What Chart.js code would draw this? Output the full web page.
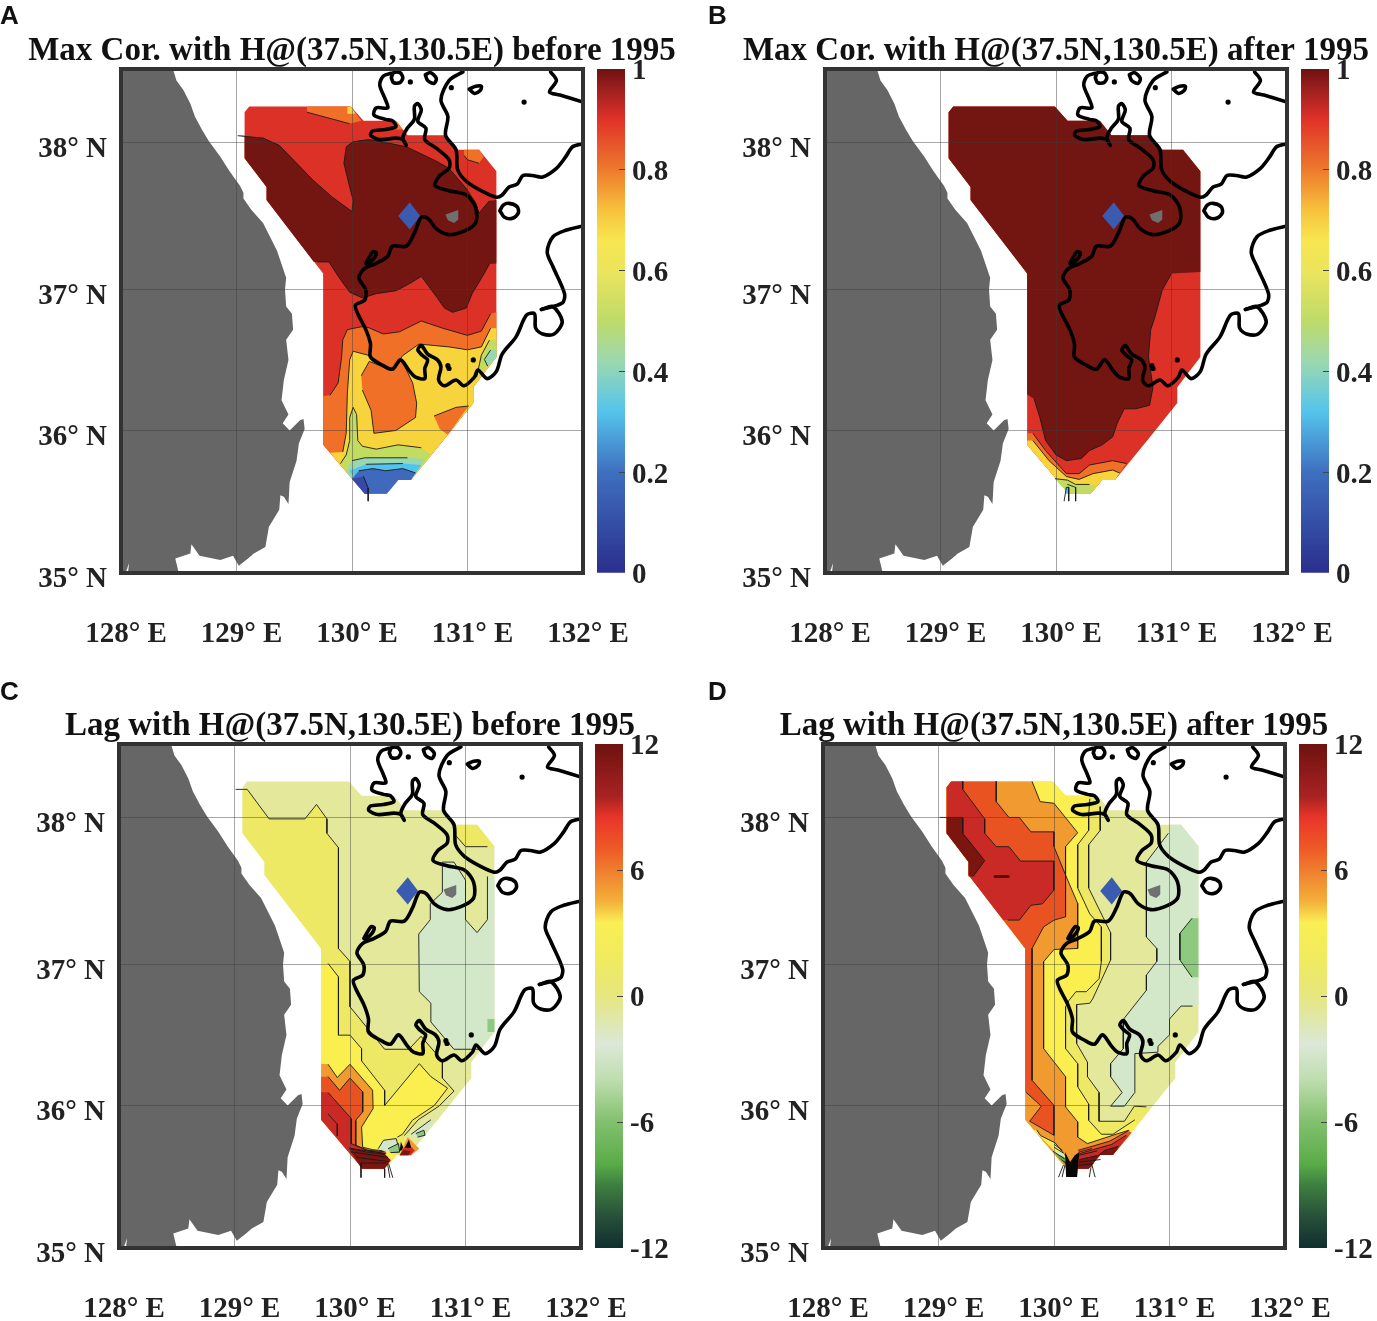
<!DOCTYPE html>
<html>
<head>
<meta charset="utf-8">
<title>Max Cor. and Lag with H@(37.5N,130.5E)</title>
<script src="https://cdn.jsdelivr.net/npm/chart.js@4/dist/chart.umd.js"></script>
<style>
  html, body { margin: 0; background: #fff; }
  #stage { position: relative; width: 1377px; height: 1321px; overflow: hidden; background: #fff; }
  canvas { position: absolute; }
  .tag { position: absolute; font: bold 26px/26px "Liberation Sans", sans-serif; color: #111; }
</style>
</head>
<body>
<div id="stage"></div>
<script>
// axis values
const lonTicks = [128, 129, 130, 131, 132];
const latTicks = [35, 35.99, 36.97, 37.99];   // grid lines as they sit in the figure
const corTicks = [0, 0.2, 0.4, 0.6, 0.8, 1];
const lagTicks = [-12, -6, 0, 6, 12];

// colour bars: value, colour
const corStops = [[1,'#6E1210'],[0.95,'#A82222'],[0.9,'#E03228'],[0.8,'#EE7A2C'],[0.72,'#F6C23C'],[0.66,'#F8E650'],[0.6,'#ECE45C'],[0.5,'#BEDB6A'],[0.42,'#9CD8B0'],[0.32,'#54C4EC'],[0.2,'#3F6FC0'],[0,'#2A2F8C']];
const lagStops = [[12,'#6E1210'],[9.5,'#A82222'],[8.5,'#E8352A'],[7,'#EE5A25'],[6,'#EF7D2F'],[4.5,'#F4B03A'],[3.5,'#F9EE55'],[2,'#F2EB5C'],[0,'#E6E67F'],[-1.5,'#DDE8B8'],[-2.3,'#DCE8D8'],[-4,'#BEDDAE'],[-6,'#82C06E'],[-8,'#5AAB48'],[-9,'#3E7F40'],[-10.5,'#27503A'],[-12,'#0F2F2E']];

// contour bands, fill colours
const RED = '#DC3127', DARK = '#731510', ORANGE = '#F07028', GOLD = '#F8D43C', LIME = '#C2DC62', TEAL = '#98D8B0', SKY = '#50C4EE', BLUE = '#3F69BC', DEEP = '#3848A8';
const PALE = '#E3E89A', YEL = '#EDE964', BRIGHT = '#FBEF50', MINT = '#D3E8C8', GREEN = '#8CCA80', AMBER = '#F19A30', EMBER = '#E95322', CRIM = '#C92A25', MAROON = '#7A1510', PINE = '#27503A', LEAF = '#5AAB48', INK = '#060606';

// third value 0 = point on the edge of the data region, no contour line drawn to it
const rimNorth = [[129.11,38.24,0],[129.99,38.24,0],[130.10,38.14,0],[130.38,38.14,0],[130.48,38.04,0],[130.80,38.04,0],[130.92,37.94,0],[131.10,37.94,0],[131.25,37.79,0]];
const rimEast = [[131.25,36.50,0],[131.05,36.29,0],[131.05,36.18,0],[130.83,35.96,0]];
const rimSouth = [[130.51,35.645,0],[130.40,35.645,0],[130.30,35.55,0],[130.11,35.55,0],[129.75,35.89,0]];
const rimWest = [[129.75,37.08,0],[129.26,37.59,0],[129.26,37.68,0],[129.07,37.88,0],[129.07,38.2,0]];
const rimTip = [[130.51,35.645,0],[130.40,35.645,0],[130.30,35.55,0],[130.11,35.55,0]];
const rimBack = [[130.11,35.55,0],[130.30,35.55,0],[130.40,35.645,0],[130.51,35.645,0],[130.83,35.96,0],[131.05,36.18,0],[131.05,36.29,0],[131.25,36.50,0]];
const domain = [...rimNorth, ...rimEast, ...rimSouth, ...rimWest];

// land and coast
const land = [[128,38.5,0],[128.45,38.5,0],[128.48,38.42,0],[128.54,38.355,0],[128.60,38.26,0],[128.64,38.17,0],[128.70,38.08,0],[128.76,38.0,0],[128.86,37.89,0],[128.94,37.79,0],[129.03,37.69,0],[129.06,37.64,0],[129.06,37.60,0],[129.13,37.52,0],[129.23,37.43,0],[129.35,37.24,0],[129.43,37.05,0],[129.42,36.97,0],[129.43,36.85,0],[129.48,36.80,0],[129.49,36.69,0],[129.43,36.62,0],[129.45,36.48,0],[129.41,36.34,0],[129.39,36.20,0],[129.45,36.10,0],[129.40,36.04,0],[129.46,35.99,0],[129.55,36.06,0],[129.58,36.07,0],[129.59,36.0,0],[129.54,35.90,0],[129.52,35.78,0],[129.46,35.63,0],[129.45,35.48,0],[129.41,35.53,0],[129.38,35.54,0],[129.37,35.44,0],[129.28,35.32,0],[129.25,35.18,0],[129.15,35.135,0],[129.10,35.10,0],[129.02,35.05,0],[128.97,35.12,0],[128.86,35.09,0],[128.68,35.12,0],[128.61,35.20,0],[128.60,35.135,0],[128.47,35.10,0],[128.50,35.0,0],[128,35,0]];
const landNotch = [[128.04,35.0,0],[128.07,35.07,0],[128.06,35.0,0]];
const coastNE = [[130.96,38.48],[130.84,38.42],[130.77,38.285],[130.83,38.17],[130.81,38.04],[130.90,37.94],[130.915,37.80],[130.99,37.72],[131.13,37.65],[131.25,37.61],[131.30,37.625],[131.36,37.68],[131.43,37.70],[131.48,37.76],[131.56,37.76],[131.65,37.75],[131.77,37.81],[131.85,37.89],[131.91,37.96],[132,37.98]];
const coastMain = [[130.34,38.47],[130.27,38.45],[130.24,38.39],[130.29,38.285],[130.31,38.23],[130.21,38.23],[130.19,38.18],[130.29,38.15],[130.35,38.14],[130.38,38.10],[130.29,38.08],[130.18,38.07],[130.16,38.04],[130.24,38.01],[130.38,38.02],[130.44,38.01],[130.47,37.97],[130.44,38.02],[130.48,38.09],[130.54,38.15],[130.54,38.24],[130.57,38.26],[130.60,38.215],[130.57,38.135],[130.64,38.09],[130.63,38.01],[130.73,37.95],[130.84,37.87],[130.84,37.81],[130.76,37.76],[130.72,37.69],[130.84,37.655],[130.99,37.625],[131.07,37.54],[131.07,37.43],[130.96,37.37],[130.84,37.35],[130.73,37.39],[130.66,37.46],[130.60,37.47],[130.54,37.36],[130.47,37.27],[130.35,37.27],[130.31,37.20],[130.21,37.15],[130.11,37.115],[130.06,37.05],[130.12,36.965],[130.11,36.895],[130.03,36.86],[130.05,36.80],[130.12,36.69],[130.16,36.59],[130.16,36.50],[130.27,36.44],[130.35,36.415],[130.42,36.48],[130.50,36.40],[130.55,36.36],[130.63,36.35],[130.63,36.42],[130.655,36.48],[130.61,36.51],[130.57,36.55],[130.60,36.58],[130.655,36.52],[130.74,36.48],[130.77,36.43],[130.75,36.34],[130.80,36.30],[130.90,36.34],[130.97,36.30],[131.06,36.36],[131.09,36.41],[131.17,36.35],[131.25,36.40],[131.30,36.52],[131.42,36.64],[131.51,36.79],[131.58,36.80],[131.59,36.70],[131.65,36.66],[131.75,36.66],[131.82,36.745],[131.74,36.85],[131.64,36.83]];
const coastE = [[131.64,36.83],[131.82,36.875],[131.84,36.94],[131.74,37.127],[131.69,37.23],[131.74,37.335],[131.85,37.38],[132,37.41]];
const coastTop = [[131.72,38.48],[131.77,38.42],[131.71,38.34],[131.80,38.32],[132,38.27]];
const loopA = [[130.34,38.44],[130.36,38.475],[130.415,38.475],[130.44,38.44],[130.415,38.405],[130.36,38.405],[130.34,38.44]];
const loopB = [[130.635,38.46],[130.68,38.475],[130.73,38.435],[130.71,38.40],[130.655,38.42],[130.635,38.46]];
const loopC = [[131.015,38.36],[131.07,38.38],[131.12,38.38],[131.11,38.35],[131.06,38.33],[131.015,38.36]];
const loopD = [[131.28,37.516],[131.31,37.555],[131.36,37.567],[131.43,37.544],[131.44,37.50],[131.39,37.463],[131.32,37.47],[131.28,37.516]];
const loopE = [[130.12,37.15],[130.18,37.23],[130.21,37.225],[130.19,37.185],[130.135,37.145],[130.12,37.15]];
const islets = [[130.505,38.41],[130.86,38.37],[131.49,38.27],[131.05,36.48],[130.84,36.42],[130.83,36.44]];
const basePoint = [[130.40,37.48,0],[130.50,37.575,0],[130.59,37.48,0],[130.50,37.385,0]];
const isletPatch = [[130.81,37.49,0],[130.92,37.52,0],[130.92,37.455,0],[130.885,37.43,0],[130.83,37.45,0]];

// A: max correlation before 1995
const aOrangeTop = [[129.61,38.24,0],[129.61,38.20],[129.98,38.12],[130.08,38.14,0],[129.99,38.24,0]];
const aGoldTop = [[129.96,38.24,0],[129.99,38.24,0],[130.03,38.19,0],[129.96,38.19,0]];
const aOrangeSmall = [[130.34,38.14,0],[130.38,38.14,0],[130.44,38.08,0],[130.38,38.08,0]];
const aOrangeNE = [[130.97,37.94,0],[131.10,37.94,0],[131.14,37.89,0],[131.10,37.845],[131.0,37.87],[130.97,37.90]];
const aDark = [[129.01,38.037],[129.23,38.02],[129.37,37.97],[129.54,37.83],[129.66,37.73],[129.83,37.61],[130.0,37.51],[130.01,37.59],[129.98,37.68],[129.93,37.845],[129.95,37.96],[130.01,37.995],[130.15,38.01],[130.29,37.99],[130.47,37.96],[130.73,37.86],[130.84,37.81],[130.99,37.67],[131.07,37.57],[131.10,37.50],[131.19,37.585],[131.25,37.59,0],[131.25,37.15,0],[131.19,37.145],[131.13,37.06],[131.04,36.94],[130.99,36.84],[130.87,36.81],[130.80,36.84],[130.73,36.92],[130.60,37.06],[130.50,37.01],[130.38,36.96],[130.21,36.94],[130.09,36.91],[129.98,36.95],[129.89,37.05],[129.80,37.16],[129.70,37.16],[129.67,37.16,0],[129.26,37.59,0],[129.26,37.68,0],[129.07,37.88,0],[129.07,38.037,0]];
const aOrangeLow = [[129.75,36.23,0],[129.81,36.235],[129.88,36.32],[129.91,36.50],[129.92,36.62],[129.96,36.69],[130.08,36.71],[130.14,36.705],[130.27,36.66],[130.41,36.675],[130.60,36.75],[130.785,36.70],[131.0,36.65],[131.12,36.68],[131.20,36.80],[131.25,36.81,0],...rimEast,...rimSouth];
const aGold = [[131.25,36.70,0],[131.20,36.70],[131.12,36.57],[131.0,36.55],[130.84,36.57],[130.58,36.59],[130.44,36.51],[130.35,36.42],[130.27,36.44],[130.15,36.51],[130.01,36.54],[129.98,36.48],[129.96,36.25],[129.95,35.97],[129.92,35.84],[129.81,35.835,0],...rimBack];
const aOrangeBlob = [[130.08,36.37],[130.15,36.47],[130.27,36.43],[130.35,36.41],[130.43,36.48],[130.525,36.32],[130.56,36.18],[130.55,36.08],[130.38,35.99],[130.19,35.97],[130.165,36.13],[130.09,36.27]];
const aOrangeCorner = [[130.71,36.09],[130.90,36.15],[131.01,36.16],[130.83,35.96,0],[130.76,36.0]];
const aLimeEast = [[131.25,36.62,0],[131.19,36.617],[131.12,36.513],[131.08,36.362],[131.16,36.42,0],[131.25,36.50,0]];
const aTealEast = [[131.25,36.548,0],[131.20,36.548],[131.146,36.483],[131.175,36.436],[131.25,36.50,0]];
const aLime = [[129.90,35.76],[129.95,35.82],[129.98,35.92],[129.98,36.08],[130.01,36.15],[130.04,36.10],[130.05,35.92],[130.09,35.88],[130.21,35.86],[130.40,35.89],[130.60,35.87],[130.69,35.82,0],...rimTip];
const aTeal = [[129.95,35.70,0],[130.0,35.78],[130.11,35.80],[130.48,35.80],[130.63,35.79,0],...rimTip];
const aSky = [[129.98,35.71,0],[130.12,35.755],[130.44,35.76],[130.60,35.75,0],...rimTip];
const aBlue = [[130.0,35.655,0],[130.06,35.71],[130.18,35.725],[130.29,35.71],[130.44,35.725],[130.55,35.695],...rimTip];
const aDeep = [[130.0,35.655,0],[130.10,35.67,0],[130.14,35.59,0],[130.14,35.55,0],[130.11,35.55,0]];
const aStubs = [[[130.10,35.67],[130.14,35.59],[130.14,35.50]]];

// B: max correlation after 1995
const bDark = [[131.25,37.09,0],[131.0,37.08],[130.92,36.965],[130.85,36.76],[130.82,36.69],[130.80,36.50],[130.84,36.29],[130.81,36.165],[130.69,36.14],[130.59,36.14],[130.53,36.04],[130.49,35.945],[130.40,35.89],[130.29,35.85],[130.22,35.795],[130.09,35.78],[130.0,35.82],[129.91,35.92],[129.86,36.08],[129.81,36.21],[129.75,36.24,0],...rimWest,...rimNorth];
const bOrange = [[129.75,35.97,0],[129.80,35.97],[129.91,35.85],[130.09,35.69],[130.20,35.69],[130.29,35.75],[130.49,35.78],[130.61,35.76],[130.51,35.645,0],[130.40,35.645,0],[130.30,35.55,0],[130.11,35.55,0],[129.75,35.89,0]];
const bGold = [[129.75,35.92,0],[129.80,35.92],[129.94,35.78],[130.09,35.67],[130.20,35.65],[130.32,35.69],[130.49,35.715],[130.55,35.695],[130.51,35.645,0],[130.40,35.645,0],[130.30,35.55,0],[130.11,35.55,0],[129.75,35.89,0]];
const bLime = [[129.99,35.655],[130.10,35.645],[130.17,35.615],[130.29,35.615],[130.35,35.61,0],[130.30,35.55,0],[130.11,35.55,0]];
const bSky = [[130.08,35.55,0],[130.08,35.595,0],[130.11,35.60,0],[130.115,35.55,0]];
const bStubs = [[[130.07,35.50],[130.09,35.595],[130.11,35.595],[130.11,35.50]],[[130.10,35.615],[130.17,35.595],[130.17,35.50]]];

// C: lag before 1995
const cYellow = [[129.01,38.185],[129.11,38.185],[129.30,37.98],[129.61,37.98],[129.71,38.08],[129.80,37.98],[129.80,37.88],[129.90,37.78],[129.90,37.08],[130.0,36.99],[130.0,36.675],[130.30,36.38],[130.51,36.38],[130.615,36.47],[130.80,36.30],[130.80,36.18],[130.90,36.09],[130.77,35.985],[130.59,35.89],[130.47,35.78],[130.51,35.645,0],[130.40,35.645,0],[130.30,35.55,0],[130.11,35.55,0],[129.75,35.89,0],...rimWest,[129.07,38.185,0]];
const cYellowNE = [[130.92,37.94,0],[130.92,37.86],[131.0,37.787],[131.19,37.787],[131.25,37.787,0],[131.10,37.94,0]];
const cBright = [[129.75,36.976,0],[129.81,36.976],[129.90,36.883],[129.90,36.478],[130.0,36.478],[130.10,36.385],[130.10,36.30],[130.30,36.095],[130.30,35.99],[130.60,36.28],[130.70,36.19],[130.845,36.11],[130.73,35.99],[130.54,35.887],[130.455,35.79],[130.41,35.77],[130.30,35.68,0],[130.11,35.55,0],[129.75,35.89,0]];
const cMint = [[131.25,36.50,0],[131.12,36.38],[130.90,36.38],[130.70,36.57],[130.70,36.70],[130.60,36.78],[130.595,37.18],[130.695,37.28],[130.695,37.39],[130.80,37.47],[130.80,37.68],[130.90,37.68],[131.0,37.555],[131.0,37.28],[131.10,37.19],[131.19,37.28],[131.19,37.58],[131.25,37.58,0]];
const cGreenE = [[131.19,36.59],[131.25,36.59,0],[131.25,36.50,0],[131.19,36.50]];
const cAmber = [[129.75,36.28,0],[129.81,36.276],[129.89,36.184],[130.0,36.276],[130.196,36.095],[130.20,35.968],[130.10,35.84],[130.11,35.70],[130.196,35.683],[130.31,35.674],[130.37,35.62,0],[130.30,35.55,0],[130.11,35.55,0],[129.75,35.89,0]];
const cEmber = [[129.75,36.19,0],[129.81,36.19],[129.91,36.095],[130.0,36.18],[130.11,36.084],[130.11,35.945],[130.05,35.887],[130.05,35.713],[130.15,35.68],[130.31,35.667],[130.30,35.55,0],[130.11,35.55,0],[129.75,35.89,0]];
const cCrim = [[129.75,36.084,0],[129.81,36.08],[130.01,35.90],[130.01,35.725],[130.14,35.68],[130.31,35.655],[130.30,35.55,0],[130.11,35.55,0],[129.75,35.89,0]];
const cMaroon = [[129.99,35.695],[130.14,35.667],[130.31,35.65],[130.36,35.62,0],[130.30,35.55,0],[130.10,35.55,0]];
const cBlobMint = [[130.245,35.69],[130.29,35.748],[130.40,35.76],[130.43,35.667],[130.33,35.662]];
const cBlobGreen = [[130.33,35.69],[130.42,35.725],[130.43,35.667],[130.35,35.662]];
const cBlobInk = [[130.44,35.737,0],[130.47,35.683,0],[130.43,35.674,0]];
const cBlobGold = [[130.30,35.655,0],[130.33,35.674,0],[130.40,35.632,0],[130.36,35.604,0]];
const cWedgeAmber = [[130.50,35.771,0],[130.60,35.69,0],[130.53,35.644,0],[130.43,35.644,0],[130.46,35.70,0]];
const cWedgeCrim = [[130.50,35.725,0],[130.56,35.678,0],[130.525,35.644,0],[130.43,35.644,0],[130.46,35.69,0]];
const cWedgeMaroon = [[130.43,35.644,0],[130.46,35.678,0],[130.525,35.674,0],[130.505,35.644,0]];
const cWedgeInk = [[130.475,35.697,0],[130.51,35.753,0],[130.53,35.697,0]];
const cSpurMint = [[130.53,35.79],[130.70,35.89],[130.73,35.875,0],[130.60,35.75,0]];
const cSpurGreen = [[130.57,35.795],[130.64,35.818],[130.65,35.783],[130.585,35.77]];
const cStubs = [[[130.01,35.69],[130.31,35.655]],[[130.01,35.667],[130.325,35.63]],[[130.05,35.63],[130.335,35.60]],[[130.10,35.59],[130.31,35.59]],[[130.095,35.59],[130.095,35.49]],[[130.30,35.55],[130.30,35.49]],[[130.325,35.585],[130.345,35.49]],[[130.335,35.585],[130.37,35.49]],[[129.81,35.93],[129.89,35.86],[129.89,35.78]]];

// D: lag after 1995
const dYellow = [[130.40,38.065],[130.40,37.90],[130.30,37.80],[130.30,37.50],[130.49,37.19],[130.49,37.0],[130.335,36.73],[130.31,36.70],[130.196,36.69],[130.196,36.42],[130.29,36.29],[130.29,36.19],[130.39,36.08],[130.39,35.88],[130.61,35.88],[130.695,35.985],[130.80,35.98],[130.83,35.96,0],...rimSouth,...rimWest,[129.11,38.24,0],[129.99,38.24,0],[130.10,38.14,0],[130.38,38.14,0]];
const dBright = [[130.31,38.12],[130.30,38.0],[130.30,37.90],[130.205,37.80],[130.205,37.50],[130.31,37.32],[130.41,37.23],[130.41,36.99],[130.39,36.87],[130.28,36.78],[130.19,36.78],[130.13,36.72],[130.10,36.675],[130.10,36.385],[130.205,36.28],[130.205,36.12],[130.30,36.0],[130.30,35.887],[130.41,35.79],[130.51,35.79],[130.70,35.89],[130.72,35.85,0],...rimSouth,...rimWest,[129.11,38.24,0],[129.99,38.24,0],[130.10,38.14,0],[130.31,38.14,0]];
const dMint = [[130.99,37.88],[130.80,37.68],[130.80,37.16],[130.89,37.08],[130.89,36.99],[130.80,36.895],[130.80,36.79],[130.60,36.587],[130.60,36.385],[130.49,36.28],[130.49,36.19],[130.59,36.08],[130.49,35.985],[130.61,35.985],[130.70,36.08],[130.70,36.35],[130.90,36.36],[130.90,36.40],[131.0,36.48],[131.0,36.59],[131.10,36.68],[131.20,36.68],[131.25,36.68,0],[131.25,37.79,0],[131.10,37.94,0],[131.0,37.94,0]];
const dGreen = [[131.25,37.29,0],[131.195,37.29],[131.09,37.185],[131.09,37.0],[131.195,36.88],[131.25,36.88,0]];
const dAmber = [[129.81,38.24],[129.88,38.10],[130.0,38.088],[130.205,37.884],[130.10,37.787],[130.10,37.59],[130.205,37.393],[130.205,37.08],[130.0,37.073],[129.91,36.988],[129.91,36.385],[130.10,36.19],[130.10,35.98],[130.205,35.876],[130.205,35.77],[130.29,35.725],[130.51,35.783],[130.65,35.818],[130.67,35.80,0],...rimSouth,...rimWest,[129.11,38.24,0]];
const dEmber = [[129.50,38.24],[129.50,38.10],[129.61,37.99],[129.70,37.99],[129.80,37.89],[130.0,37.89],[130.0,37.787],[130.10,37.59],[130.10,37.30],[130.0,37.277],[129.91,37.23],[129.81,37.08],[129.81,36.165],[130.0,35.99],[130.0,35.783],[129.79,35.88],[129.89,35.985],[129.76,36.08],[129.75,36.08,0],...rimWest,[129.11,38.24,0]];
const dCrim = [[129.21,38.24],[129.21,38.185],[129.40,37.98],[129.40,37.88],[129.50,37.787],[129.61,37.787],[129.71,37.687],[130.0,37.687],[130.0,37.486],[129.90,37.39],[129.80,37.38],[129.70,37.277],[129.60,37.277],[129.56,37.277,0],[129.26,37.59,0],[129.26,37.68,0],[129.07,37.88,0],[129.07,38.2,0],[129.11,38.24,0]];
const dMaroon = [[129.01,37.99],[129.21,37.99],[129.21,37.88],[129.40,37.69],[129.30,37.58],[129.26,37.58,0],[129.26,37.68,0],[129.07,37.88,0],[129.07,37.99,0]];
const dGold = [[129.825,35.82,0],[129.85,35.82],[129.885,35.78],[130.01,35.73],[130.10,35.64],[130.08,35.597,0],[129.995,35.68,0]];
const dLeafPale = [[129.995,35.683,0],[130.09,35.657,0],[130.09,35.63,0],[130.01,35.66,0]];
const dLeaf = [[130.01,35.66,0],[130.09,35.63,0],[130.10,35.60,0],[130.04,35.627,0]];
const dPine = [[130.04,35.627,0],[130.10,35.60,0],[130.11,35.574,0],[130.08,35.597,0]];
const dInk = [[130.095,35.667,0],[130.14,35.597,0],[130.18,35.644,0],[130.22,35.667,0],[130.20,35.493,0],[130.105,35.493,0]];
const dEmberS = [[130.21,35.679],[130.33,35.706],[130.485,35.743],[130.64,35.813],[130.673,35.80,0],[130.51,35.645,0],[130.40,35.645,0],[130.30,35.55,0],[130.20,35.55,0]];
const dCrimS = [[130.22,35.655],[130.34,35.683],[130.50,35.72],[130.625,35.783],[130.64,35.776,0],[130.51,35.645,0],[130.40,35.645,0],[130.30,35.55,0],[130.20,35.55,0]];
const dMaroonS = [[130.22,35.614],[130.385,35.644],[130.44,35.678],[130.557,35.706],[130.56,35.70,0],[130.51,35.645,0],[130.40,35.645,0],[130.30,35.55,0],[130.20,35.55,0]];
const dDash = [[129.49,37.58],[129.605,37.58]];
const dStubs = [[[130.22,35.667],[130.326,35.69]],[[130.22,35.644],[130.37,35.674]],[[130.22,35.597],[130.40,35.614]],[[130.22,35.574],[130.34,35.586]],[[130.04,35.493],[130.08,35.574]],[[130.07,35.493],[130.095,35.574]],[[130.306,35.493],[130.326,35.586]],[[130.355,35.493],[130.326,35.586]],[[130.0,35.72],[130.07,35.68]],[[130.0,35.70],[130.08,35.66]],[[129.995,35.67],[130.09,35.62]]];

const panels = [
  { tag: 'A', left: 0, top: 0, title: 'Max Cor. with H@(37.5N,130.5E) before 1995', bar: 'cor',
    layers: [[domain,RED],[aOrangeTop,ORANGE],[aGoldTop,GOLD],[aOrangeSmall,ORANGE],[aOrangeNE,ORANGE],[aDark,DARK],[aOrangeLow,ORANGE],[aGold,GOLD],[aOrangeBlob,ORANGE],[aOrangeCorner,ORANGE],[aLimeEast,LIME],[aTealEast,TEAL],[aLime,LIME],[aTeal,TEAL],[aSky,SKY],[aBlue,BLUE],[aDeep,DEEP]], stubs: aStubs },
  { tag: 'B', left: 704, top: 0, title: 'Max Cor. with H@(37.5N,130.5E) after 1995', bar: 'cor',
    layers: [[domain,RED],[bDark,DARK],[bOrange,ORANGE],[bGold,GOLD],[bLime,LIME],[bSky,SKY]], stubs: bStubs },
  { tag: 'C', left: -2, top: 675, title: 'Lag with H@(37.5N,130.5E) before 1995', bar: 'lag',
    layers: [[domain,PALE],[cYellow,YEL],[cYellowNE,YEL],[cBright,BRIGHT],[cMint,MINT],[cGreenE,GREEN],[cAmber,AMBER],[cEmber,EMBER],[cCrim,CRIM],[cMaroon,MAROON],[cBlobMint,MINT],[cBlobGreen,GREEN],[cBlobInk,INK],[cBlobGold,BRIGHT],[cWedgeAmber,AMBER],[cWedgeCrim,CRIM],[cWedgeMaroon,MAROON],[cWedgeInk,INK],[cSpurMint,MINT],[cSpurGreen,GREEN]], stubs: cStubs },
  { tag: 'D', left: 702, top: 675, title: 'Lag with H@(37.5N,130.5E) after 1995', bar: 'lag',
    layers: [[domain,PALE],[dYellow,YEL],[dBright,BRIGHT],[dMint,MINT],[dGreen,GREEN],[dAmber,AMBER],[dEmber,EMBER],[dCrim,CRIM],[dMaroon,MAROON],[dGold,BRIGHT],[dLeafPale,MINT],[dLeaf,LEAF],[dPine,PINE],[dEmberS,EMBER],[dCrimS,CRIM],[dMaroonS,MAROON],[dInk,INK]], stubs: dStubs, extra: [dDash] }
];

// fill each band from the points the scales have placed
const bandFill = {
  id: 'bandFill',
  beforeDatasetDraw(chart, args) {
    const ds = chart.data.datasets[args.index];
    if (!ds.bandColor) return;
    const ctx = chart.ctx;
    ctx.save();
    ctx.beginPath();
    args.meta.data.forEach((p, i) => (i ? ctx.lineTo(p.x, p.y) : ctx.moveTo(p.x, p.y)));
    ctx.closePath();
    ctx.fillStyle = ds.bandColor;
    ctx.fill();
    ctx.restore();
  }
};

const frame = {
  id: 'frame',
  afterDraw(chart) {
    const { left, top, width, height } = chart.chartArea;
    chart.ctx.save();
    chart.ctx.strokeStyle = '#333';
    chart.ctx.lineWidth = 4;
    chart.ctx.strokeRect(left, top, width, height);
    chart.ctx.restore();
  }
};

function toXY(pts) {
  return pts.map(p => ({ x: p[0], y: p[1] }));
}

function band(pts, color) {
  return {
    data: toXY(pts),
    showLine: true,
    pointRadius: 0,
    borderWidth: 0.9,
    borderColor: 'rgba(0,0,0,0)',
    bandColor: color,
    segment: {
      borderColor: c => (pts[c.p0DataIndex].length === 2 && pts[c.p1DataIndex].length === 2 ? '#1a1a1a' : 'rgba(0,0,0,0)')
    }
  };
}

function line(pts, width, color, tension) {
  return { data: toXY(pts), showLine: true, pointRadius: 0, borderWidth: width, borderColor: color, tension: tension || 0, borderCapStyle: 'round', borderJoinStyle: 'round' };
}

function drawPanel(panel, stage) {
  const cv = document.createElement('canvas');
  cv.width = 704;
  cv.height = 663;
  cv.style.left = panel.left + 'px';
  cv.style.top = panel.top + 'px';
  stage.appendChild(cv);

  const datasets = [band(land, '#666666'), band(landNotch, '#ffffff')];
  panel.layers.forEach(l => datasets.push(band(l[0], l[1])));
  panel.stubs.forEach(s => datasets.push(line(s, 0.9, '#1a1a1a')));
  (panel.extra || []).forEach(s => datasets.push(line(s, 3, '#5a0d0a')));
  datasets.push(band(basePoint, '#3B5BB0'), band(isletPatch, '#707070'));
  [coastNE, coastMain, coastE, coastTop, loopA, loopB, loopC, loopD, loopE].forEach(c => datasets.push(line(c, 3.6, '#000', 0.3)));
  datasets.push({ data: toXY(islets), showLine: false, pointRadius: 2.6, pointBackgroundColor: '#000', pointBorderWidth: 0 });
  datasets.forEach((d, i) => { d.order = -i; });

  new Chart(cv, {
    type: 'scatter',
    data: { datasets },
    plugins: [bandFill, frame],
    options: {
      responsive: false,
      animation: false,
      events: [],
      layout: { autoPadding: false, padding: 0 },
      plugins: {
        legend: { display: false },
        tooltip: { enabled: false },
        title: {
          display: true,
          text: panel.title,
          color: '#111',
          font: { family: '"Liberation Serif", serif', size: 33, weight: 'bold' },
          padding: { top: 31.4, bottom: -2 }
        }
      },
      scales: {
        x: {
          type: 'linear', min: 128, max: 132,
          afterBuildTicks: s => { s.ticks = lonTicks.map(value => ({ value })); },
          afterFit: s => { s.height = 90; },
          grid: { z: 1, drawTicks: false, lineWidth: 1, color: c => (c.tick.value === 129 || c.tick.value === 130 || c.tick.value === 131 ? 'rgba(60,60,60,0.45)' : 'rgba(0,0,0,0)') },
          border: { display: false },
          ticks: { autoSkip: false, maxRotation: 0, minRotation: 0, padding: 44, labelOffset: 5, color: '#222', font: { family: '"Liberation Serif", serif', size: 29, weight: 'bold' }, callback: v => v + '° E' }
        },
        y: {
          type: 'linear', min: 35, max: 38.5,
          afterBuildTicks: s => { s.ticks = latTicks.map(value => ({ value })); },
          afterFit: s => { s.width = 121; },
          grid: { z: 1, drawTicks: false, lineWidth: 1, color: c => (c.tick.value === 35 ? 'rgba(0,0,0,0)' : 'rgba(60,60,60,0.45)') },
          border: { display: false },
          ticks: { autoSkip: false, padding: 14, labelOffset: 7, color: '#222', font: { family: '"Liberation Serif", serif', size: 29, weight: 'bold' }, callback: v => Math.round(v) + '° N' }
        },
        // empty scale on the right keeps the plot left of the canvas centre, so the title centres over it
        rightGap: {
          axis: 'y', position: 'right', min: 0, max: 1,
          afterFit: s => { s.width = 121; },
          grid: { display: false },
          border: { display: false },
          ticks: { display: false }
        }
      }
    }
  });
}

function drawBar(panel, stage) {
  const stops = panel.bar === 'cor' ? corStops : lagStops;
  const ticks = panel.bar === 'cor' ? corTicks : lagTicks;
  const lo = ticks[0], hi = ticks[ticks.length - 1];
  const cv = document.createElement('canvas');
  cv.width = 90;
  cv.height = 554;
  cv.style.left = (panel.left + 590) + 'px';
  cv.style.top = (panel.top + 44) + 'px';
  stage.appendChild(cv);

  new Chart(cv, {
    type: 'bar',
    data: {
      labels: [panel.bar],
      datasets: [{
        data: [[lo, hi]],
        barPercentage: 1,
        categoryPercentage: 1,
        backgroundColor: c => {
          const a = c.chart.chartArea;
          if (!a) return stops[0][1];
          const g = c.chart.ctx.createLinearGradient(0, a.top, 0, a.bottom);
          stops.forEach(s => g.addColorStop((hi - s[0]) / (hi - lo), s[1]));
          return g;
        }
      }]
    },
    options: {
      responsive: false,
      animation: false,
      events: [],
      layout: { autoPadding: false, padding: { left: 7, right: 0, top: 25, bottom: 25 } },
      plugins: { legend: { display: false }, tooltip: { enabled: false } },
      scales: {
        x: { display: false },
        y: {
          position: 'right', min: lo, max: hi,
          afterBuildTicks: s => { s.ticks = ticks.map(value => ({ value })); },
          afterFit: s => { s.width = 55; s.paddingTop = 0; s.paddingBottom = 0; },
          border: { display: false },
          grid: { z: 1, drawOnChartArea: false, tickLength: -6, tickColor: c => (c.tick.value === lo || c.tick.value === hi ? 'rgba(0,0,0,0)' : '#444') },
          ticks: { autoSkip: false, padding: 13, labelOffset: 3, color: '#222', font: { family: '"Liberation Serif", serif', size: 29, weight: 'bold' }, callback: v => String(v) }
        }
      }
    }
  });
}

const stage = document.getElementById('stage');
panels.forEach(p => {
  drawPanel(p, stage);
  drawBar(p, stage);
  const t = document.createElement('div');
  t.className = 'tag';
  t.textContent = p.tag;
  t.style.left = (p.left === 0 || p.left === -2 ? 0 : 708) + 'px';
  t.style.top = (p.top ? 678 : 2) + 'px';
  stage.appendChild(t);
});
</script>
</body>
</html>
